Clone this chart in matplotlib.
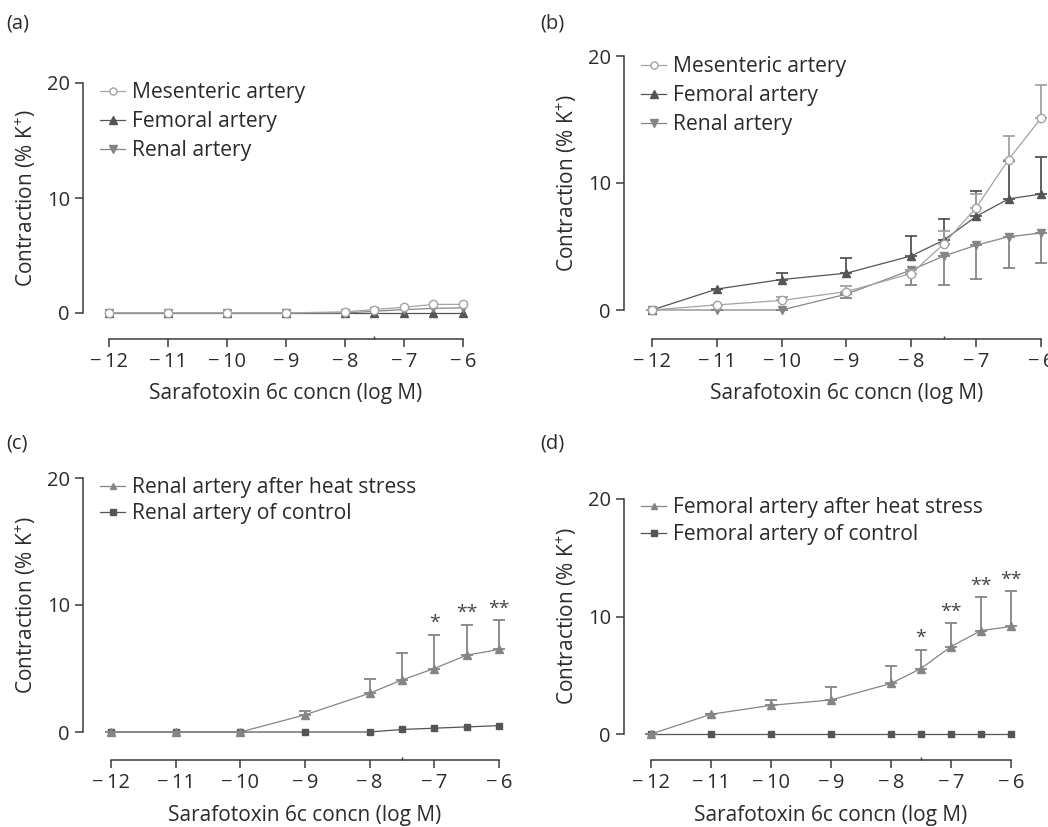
import matplotlib
matplotlib.use("Agg")
import matplotlib.pyplot as plt
import numpy as np

plt.rcParams['font.family'] = ['Open Sans', 'DejaVu Sans']
plt.rcParams['mathtext.fontset'] = 'custom'
plt.rcParams['mathtext.rm'] = 'Open Sans'

# ---------------- data ----------------
conc = [-12, -11, -10, -9, -8, -7.5, -7, -6.5, -6]
xticks = [-12, -11, -10, -9, -8, -7, -6]
xticklabels = ["\u2212\u200912", "\u2212\u200911", "\u2212\u200910", "\u2212\u20099",
               "\u2212\u20098", "\u2212\u20097", "\u2212\u20096"]
yticks = [0, 10, 20]

# panel (a)
a_mes = [0, 0, 0, 0, 0.1, 0.3, 0.5, 0.75, 0.75]
a_fem = [0, 0, 0, 0, 0, 0, 0, 0, 0]
a_ren = [0, 0, 0, 0, 0, 0.15, 0.3, 0.4, 0.45]

# panel (b)
b_mes = [0, 0.4, 0.75, 1.45, 2.87, 5.2, 8.05, 11.85, 15.1]
b_mes_err = [0, 0, 0.3, 0.45, 0.3, 1.0, 1.1, 1.85, 2.6]
b_fem = [0, 1.65, 2.4, 2.9, 4.26, 5.5, 7.37, 8.75, 9.13]
b_fem_err = [0, 0, 0.5, 1.2, 1.55, 1.7, 2.0, 2.95, 2.95]
b_ren = [0, 0, 0, 1.25, 3.15, 4.25, 5.1, 5.77, 6.06]
b_ren_err = [0, 0, 0, 0.3, 1.18, 2.28, 2.66, 2.44, 2.36]

# panel (c)
c_heat = [0, 0, 0, 1.35, 3.05, 4.1, 5.0, 6.05, 6.5]
c_heat_err = [0, 0, 0, 0.27, 1.1, 2.15, 2.65, 2.4, 2.3]
c_ctrl = [0, 0, 0, 0, 0, 0.2, 0.3, 0.4, 0.5]
c_stars = ["", "", "", "", "", "", "*", "**", "**"]

# panel (d)
d_heat = [0, 1.68, 2.44, 2.9, 4.3, 5.57, 7.44, 8.8, 9.15]
d_heat_err = [0, 0, 0.46, 1.13, 1.5, 1.62, 1.99, 2.88, 2.98]
d_ctrl = [0, 0, 0, 0, 0, 0, 0, 0, 0]
d_stars = ["", "", "", "", "", "*", "**", "**", "**"]

# ---------------- styling ----------------
W, H = 1048, 827
fig = plt.figure(figsize=(W / 100, H / 100), dpi=100)

LIGHT = '#a3a3a3'
MID = '#858585'
DARK = '#555555'
SPINE = '#3a3a3a'
TXT = '#2b2b2b'
FS_TICK = 14.5
FS_LAB = 15
FS_LEG = 15.2


def make_axes(px_spine, px_m12, px_m6, py0, py20, py_spine):
    xu = (px_m6 - px_m12) / 6.0
    yu = (py0 - py20) / 20.0
    x_left = -12 - (px_m12 - px_spine) / xu
    x_right = -6 + 0.15
    px_right = px_m6 + 0.15 * xu
    y_bottom = -(py_spine - py0) / yu
    y_top = 20.4
    py_top = py20 - 0.4 * yu
    ax = fig.add_axes([px_spine / W, 1 - py_spine / H,
                       (px_right - px_spine) / W, (py_spine - py_top) / H])
    ax.set_xlim(x_left, x_right)
    ax.set_ylim(y_bottom, y_top)
    for s in ['top', 'right']:
        ax.spines[s].set_visible(False)
    for s in ['left', 'bottom']:
        ax.spines[s].set_color(SPINE)
        ax.spines[s].set_linewidth(1.1)
    ax.spines['left'].set_bounds(0, 20)
    ax.spines['bottom'].set_bounds(-12, -6)
    ax.set_xticks(xticks)
    ax.set_xticklabels(xticklabels)
    ax.set_yticks(yticks)
    ax.set_xticks([-7.5], minor=True)
    ax.tick_params(axis='x', which='minor', direction='in', length=2, width=1, color=SPINE)
    ax.tick_params(which='major', direction='out', length=5.5, width=1.1, color=SPINE,
                   labelsize=FS_TICK, labelcolor=TXT, pad=4)
    ax.patch.set_alpha(0)
    xc = (px_m12 + px_m6) / 2.0
    fig.text(xc / W, 1 - (py_spine + 55) / H, "Sarafotoxin 6c concn (log M)",
             ha='center', va='center', fontsize=FS_LAB, color=TXT)
    fig.text((px_spine - 57) / W, 1 - ((py0 + py20) / 2.0) / H,
             "Contraction (% K$^{+}$)", rotation=90, ha='center', va='center',
             fontsize=FS_LAB, color=TXT)
    return ax


def series(ax, y, err, color, marker, mfc, ms, direction='up', z=2, lw=0.9):
    if err is not None:
        e = np.array(err)
        zero = np.zeros_like(e)
        yerr = [zero, e] if direction == 'up' else [e, zero]
        ax.errorbar(conc, y, yerr=yerr, fmt='none', ecolor=color, elinewidth=1.3,
                    capsize=4, capthick=1.3, zorder=z)
    line, = ax.plot(conc, y, color=color, lw=lw, marker=marker, ms=ms,
                    mfc=mfc, mec=color, mew=1.0, zorder=z + 0.5, clip_on=False)
    return line


def legend(ax, handles, labels, left_px, top_px, spacing):
    ax.legend(handles, labels, loc='upper left', frameon=False,
              bbox_to_anchor=(left_px / W, 1 - top_px / H), bbox_transform=fig.transFigure,
              borderpad=0, borderaxespad=0, handlelength=1.2, handletextpad=0.3,
              labelspacing=spacing, fontsize=FS_LEG, labelcolor=TXT, markerscale=0.85)


def stars(ax, y, err, labels):
    for xv, yv, ev, s in zip(conc, y, err, labels):
        if s:
            ax.text(xv, yv + ev + 0.2, s, ha='center', va='bottom',
                    fontsize=14, color='#444444')


for txt, px, py in [("(a)", 6, 23), ("(b)", 540, 23), ("(c)", 6, 444), ("(d)", 540, 444)]:
    fig.text(px / W, 1 - py / H, txt, ha='left', va='center', fontsize=FS_TICK, color=TXT)

# (a)
ax = make_axes(83, 109, 463, 313, 83, 339)
h1 = series(ax, a_mes, None, LIGHT, 'o', 'white', 6, z=4)
h2 = series(ax, a_fem, None, DARK, '^', DARK, 6, z=2)
h3 = series(ax, a_ren, None, MID, 'v', MID, 6, z=3)
legend(ax, [h1, h2, h3], ["Mesenteric artery", "Femoral artery", "Renal artery"], 100, 82, 0.38)

# (b)
ax = make_axes(624, 652, 1041, 310, 56, 339)
h1 = series(ax, b_mes, b_mes_err, LIGHT, 'o', 'white', 6, 'up', z=4)
h2 = series(ax, b_fem, b_fem_err, DARK, '^', DARK, 6, 'up', z=2)
h3 = series(ax, b_ren, b_ren_err, MID, 'v', MID, 6, 'down', z=3)
legend(ax, [h1, h2, h3], ["Mesenteric artery", "Femoral artery", "Renal artery"], 641, 56, 0.38)

# (c)
ax = make_axes(83, 111, 499, 732, 478, 760)
h2 = series(ax, c_ctrl, None, DARK, 's', DARK, 5, z=2)
h1 = series(ax, c_heat, c_heat_err, MID, '^', MID, 5.5, 'up', z=4)
stars(ax, c_heat, c_heat_err, c_stars)
legend(ax, [h1, h2], ["Renal artery after heat stress", "Renal artery of control"], 100, 477, 0.25)

# (d)
ax = make_axes(624, 651, 1011, 734, 499, 760)
h2 = series(ax, d_ctrl, None, DARK, 's', DARK, 5, z=2)
h1 = series(ax, d_heat, d_heat_err, MID, '^', MID, 5.5, 'up', z=4)
stars(ax, d_heat, d_heat_err, d_stars)
legend(ax, [h1, h2], ["Femoral artery after heat stress", "Femoral artery of control"], 641, 497, 0.28)

fig.savefig("out.png", dpi=100)
